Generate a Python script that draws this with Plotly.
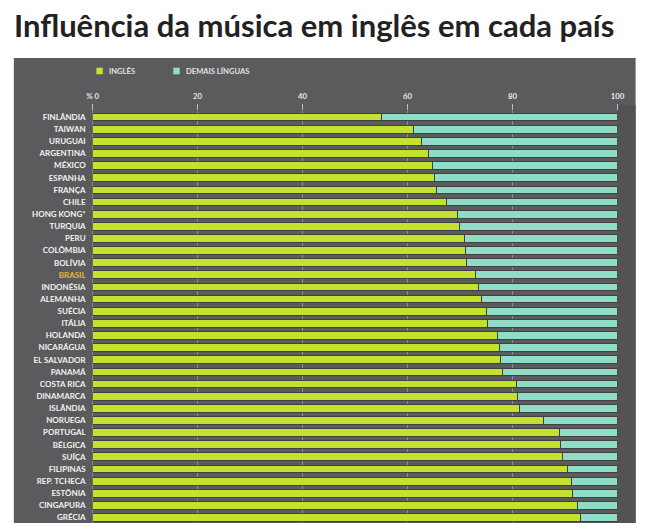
import plotly.graph_objects as go

W, H = 649, 523

countries = ["FINLÂNDIA", "TAIWAN", "URUGUAI", "ARGENTINA", "MÉXICO", "ESPANHA", "FRANÇA",
             "CHILE", "HONG KONG*", "TURQUIA", "PERU", "COLÔMBIA", "BOLÍVIA", "BRASIL",
             "INDONÉSIA", "ALEMANHA", "SUÉCIA", "ITÁLIA", "HOLANDA", "NICARÁGUA",
             "EL SALVADOR", "PANAMÁ", "COSTA RICA", "DINAMARCA", "ISLÂNDIA", "NORUEGA",
             "PORTUGAL", "BÉLGICA", "SUÍÇA", "FILIPINAS", "REP. TCHECA", "ESTÔNIA",
             "CINGAPURA", "GRÉCIA"]
ingles = [55.0, 61.1, 62.7, 63.9, 64.7, 65.1, 65.6, 67.4, 69.5, 69.9, 70.9, 71.0, 71.2,
          72.9, 73.6, 74.0, 75.0, 75.3, 77.2, 77.6, 77.7, 78.0, 80.7, 81.0, 81.4, 85.9,
          89.0, 89.2, 89.6, 90.4, 91.3, 91.5, 92.3, 93.0]
demais = [round(100 - v, 1) for v in ingles]
x_ticks = [0, 20, 40, 60, 80, 100]
x_ticktext = ["% 0", "20", "40", "60", "80", "100"]
series_names = ["INGLÊS", "DEMAIS LÍNGUAS"]
highlight = "BRASIL"

GREEN = "#c4e12d"
TEAL = "#8fdcc7"
PANEL = "#5b5b5d"


def px(X):
    """paper fraction for a horizontal pixel position"""
    return X / W


def py(Y):
    """paper fraction for a vertical pixel position (from top)"""
    return 1 - Y / H


ticktext = [f"<span style='color:#e9b934'>{c}</span>" if c == highlight else c for c in countries]

fig = go.Figure()
fig.add_trace(go.Bar(y=countries, x=ingles, orientation="h", name=series_names[0],
                     marker=dict(color=GREEN, line=dict(color="#404042", width=1))))
fig.add_trace(go.Bar(y=countries, x=demais, orientation="h", name=series_names[1],
                     marker=dict(color=TEAL, line=dict(color="#404042", width=1))))

# legend drawn as swatches + text
legend_items = [(series_names[0], GREEN, 95.5, 103.5), (series_names[1], TEAL, 174.0, 181.5)]
shapes = [
    dict(type="rect", xref="paper", yref="paper", layer="below",
         x0=px(8), x1=px(642.5), y0=0, y1=py(58),
         fillcolor=PANEL, line=dict(width=0)),
    dict(type="rect", xref="paper", yref="paper", layer="below",
         x0=px(624), x1=px(642.5), y0=0, y1=py(105),
         fillcolor="#535355", line=dict(width=0)),
    dict(type="line", xref="paper", yref="paper", layer="below",
         x0=px(88.4), x1=px(88.4), y0=0, y1=py(104),
         line=dict(color="#8c8c8e", width=1)),
]
annotations = [
    dict(text="<b>Influência da música em inglês em cada país</b>",
         xref="paper", yref="paper", x=px(6), y=py(25),
         xanchor="left", yanchor="middle", showarrow=False,
         font=dict(family="Lato, sans-serif", size=31, color="#222222")),
]
for name, col, cx, tx in legend_items:
    shapes.append(dict(type="rect", xref="paper", yref="paper",
                       x0=px(cx - 3.3), x1=px(cx + 3.3), y0=py(74.3), y1=py(67.7),
                       fillcolor=col, line=dict(width=0)))
    annotations.append(dict(text=name, xref="paper", yref="paper", x=px(tx), y=py(71),
                            xanchor="left", yanchor="middle", showarrow=False,
                            font=dict(family="Lato, sans-serif", size=7.6,
                                      color="#e2e2e2", weight="bold")))

fig.update_layout(
    width=W, height=H,
    margin=dict(l=0, r=0, t=0, b=0),
    paper_bgcolor="white",
    plot_bgcolor="rgba(0,0,0,0)",
    barmode="stack",
    bargap=0.36,
    font=dict(family="Lato, sans-serif", color="white"),
    showlegend=False,
    xaxis=dict(domain=[px(88.4), px(624)], range=[0, 100], side="top",
               tickvals=x_ticks, ticktext=x_ticktext,
               showgrid=True, gridcolor="#8c8c8e", gridwidth=1,
               zeroline=False, showline=False,
               ticks="outside", ticklen=6, tickcolor="#bdbdbd", tickwidth=1,
               tickfont=dict(size=7.8, color="#e6e6e6", weight="bold"),
               ticklabelstandoff=2, fixedrange=True),
    yaxis=dict(domain=[0, py(111)], type="category",
               categoryorder="array", categoryarray=countries,
               range=[33.45, -0.5],
               tickvals=countries, ticktext=ticktext,
               showgrid=False, zeroline=False, showline=False, ticks="",
               tickfont=dict(size=8, color="#f2f2f2", weight="bold"),
               ticklabelstandoff=6, fixedrange=True),
    shapes=shapes,
    annotations=annotations,
)

fig.write_html("out.html")
